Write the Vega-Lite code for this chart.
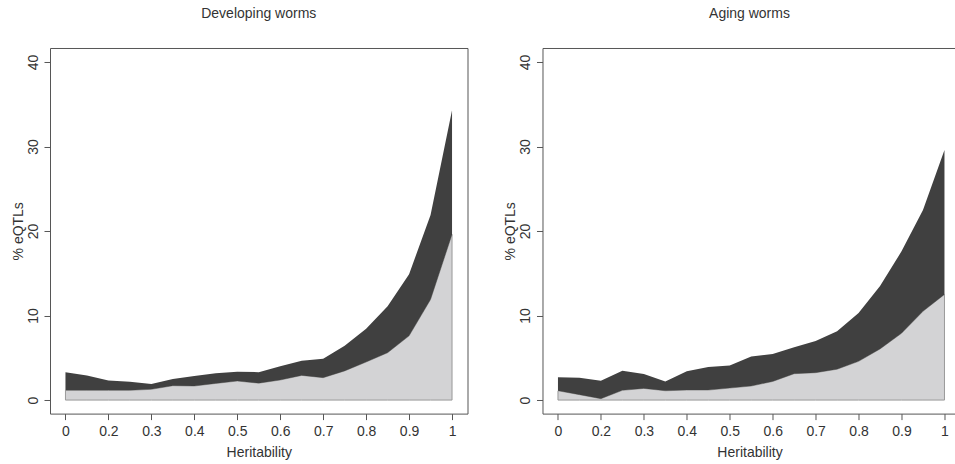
{
  "$schema": "https://vega.github.io/schema/vega-lite/v6.json",
  "padding": {"left": 10, "top": 6, "right": 0, "bottom": 5},
  "background": "white",
  "config": {
    "font": "Liberation Sans",
    "view": {"stroke": "#555555", "strokeWidth": 1},
    "axis": {"grid": false, "domain": false, "domainColor": "#555555", "tickColor": "#555555", "tickSize": 6, "labelFontSize": 14, "labelColor": "#333333", "titleFontSize": 14, "titleFontWeight": "normal", "titleColor": "#333333", "labelFont": "Liberation Sans", "titleFont": "Liberation Sans"},
    "title": {"fontSize": 14, "fontWeight": "normal", "color": "#333333", "font": "Liberation Sans"}
  },
  "datasets": {
    "dev": [
      {"h": 0.1, "light": 1.15, "total": 3.3},
      {"h": 0.15, "light": 1.15, "total": 2.92},
      {"h": 0.2, "light": 1.15, "total": 2.33},
      {"h": 0.25, "light": 1.15, "total": 2.18},
      {"h": 0.3, "light": 1.27, "total": 1.9},
      {"h": 0.35, "light": 1.7, "total": 2.49},
      {"h": 0.4, "light": 1.66, "total": 2.85},
      {"h": 0.45, "light": 1.97, "total": 3.16},
      {"h": 0.5, "light": 2.25, "total": 3.36},
      {"h": 0.55, "light": 2.0, "total": 3.3},
      {"h": 0.6, "light": 2.37, "total": 4.0},
      {"h": 0.65, "light": 2.92, "total": 4.66},
      {"h": 0.7, "light": 2.65, "total": 4.9},
      {"h": 0.75, "light": 3.45, "total": 6.43},
      {"h": 0.8, "light": 4.5, "total": 8.45},
      {"h": 0.85, "light": 5.6, "total": 11.1},
      {"h": 0.9, "light": 7.6, "total": 14.9},
      {"h": 0.95, "light": 11.9, "total": 21.9},
      {"h": 1.0, "light": 19.6, "total": 34.3}
    ],
    "aging": [
      {"h": 0.1, "light": 1.1, "total": 2.69},
      {"h": 0.15, "light": 0.64, "total": 2.65},
      {"h": 0.2, "light": 0.16, "total": 2.3},
      {"h": 0.25, "light": 1.15, "total": 3.48},
      {"h": 0.3, "light": 1.38, "total": 3.08},
      {"h": 0.35, "light": 1.1, "total": 2.2},
      {"h": 0.4, "light": 1.18, "total": 3.4},
      {"h": 0.45, "light": 1.18, "total": 3.9},
      {"h": 0.5, "light": 1.42, "total": 4.1},
      {"h": 0.55, "light": 1.66, "total": 5.17},
      {"h": 0.6, "light": 2.2, "total": 5.45},
      {"h": 0.65, "light": 3.12, "total": 6.24},
      {"h": 0.7, "light": 3.24, "total": 7.0},
      {"h": 0.75, "light": 3.65, "total": 8.13},
      {"h": 0.8, "light": 4.58, "total": 10.3},
      {"h": 0.85, "light": 6.05, "total": 13.5},
      {"h": 0.9, "light": 7.9, "total": 17.6},
      {"h": 0.95, "light": 10.5, "total": 22.5},
      {"h": 1.0, "light": 12.5, "total": 29.6}
    ]
  },
  "spacing": 35.5,
  "hconcat": [
    {
      "title": {"text": "Developing worms", "offset": 27},
      "width": 417.5,
      "height": 365.6,
      "data": {"name": "dev"},
      "layer": [
        {
          "mark": {"type": "area", "color": "#d3d3d5", "stroke": "#9a9a9a", "strokeWidth": 1},
          "encoding": {
            "x": {"field": "h", "type": "quantitative", "scale": {"domain": [0.064, 1.036], "nice": false, "zero": false},
              "axis": {"values": [0.1, 0.2, 0.3, 0.4, 0.5, 0.6, 0.7, 0.8, 0.9, 1.0], "labelExpr": "datum.value < 0.15 ? '0' : (datum.value > 0.95 ? '1' : format(datum.value, '.1f'))", "title": "Heritability", "labelPadding": 5, "titlePadding": 7}},
            "y": {"field": "light", "type": "quantitative", "scale": {"domain": [-1.6, 41.66], "nice": false, "zero": false},
              "axis": {"values": [0, 10, 20, 30, 40], "labelAngle": -90, "title": "% eQTLs", "labelPadding": 4, "titlePadding": 1}},
            "y2": {"datum": 0}
          }
        },
        {
          "mark": {"type": "area", "color": "#404040"},
          "encoding": {
            "x": {"field": "h", "type": "quantitative"},
            "y": {"field": "light", "type": "quantitative"},
            "y2": {"field": "total"}
          }
        }
      ]
    },
    {
      "title": {"text": "Aging worms", "offset": 27},
      "width": 414,
      "height": 365.6,
      "view": {"stroke": null},
      "data": {"name": "aging"},
      "resolve": {"axis": {"x": "independent"}},
      "layer": [
        {
          "mark": {"type": "area", "color": "#d3d3d5", "stroke": "#9a9a9a", "strokeWidth": 1},
          "encoding": {
            "x": {"field": "h", "type": "quantitative", "scale": {"domain": [0.064, 1.028], "nice": false, "zero": false},
              "axis": {"values": [0.1, 0.2, 0.3, 0.4, 0.5, 0.6, 0.7, 0.8, 0.9, 1.0], "labelExpr": "datum.value < 0.15 ? '0' : (datum.value > 0.95 ? '1' : format(datum.value, '.1f'))", "title": "Heritability", "labelPadding": 5, "titlePadding": 7, "domain": true}},
            "y": {"field": "light", "type": "quantitative", "scale": {"domain": [-1.6, 41.66], "nice": false, "zero": false},
              "axis": {"values": [0, 10, 20, 30, 40], "labelAngle": -90, "title": "% eQTLs", "labelPadding": 4, "titlePadding": 1, "domain": true}},
            "y2": {"datum": 0}
          }
        },
        {
          "mark": {"type": "area", "color": "#404040"},
          "encoding": {
            "x": {"field": "h", "type": "quantitative", "axis": {"orient": "top", "domain": true, "ticks": false, "labels": false, "title": null}},
            "y": {"field": "light", "type": "quantitative"},
            "y2": {"field": "total"}
          }
        }
      ]
    }
  ]
}
